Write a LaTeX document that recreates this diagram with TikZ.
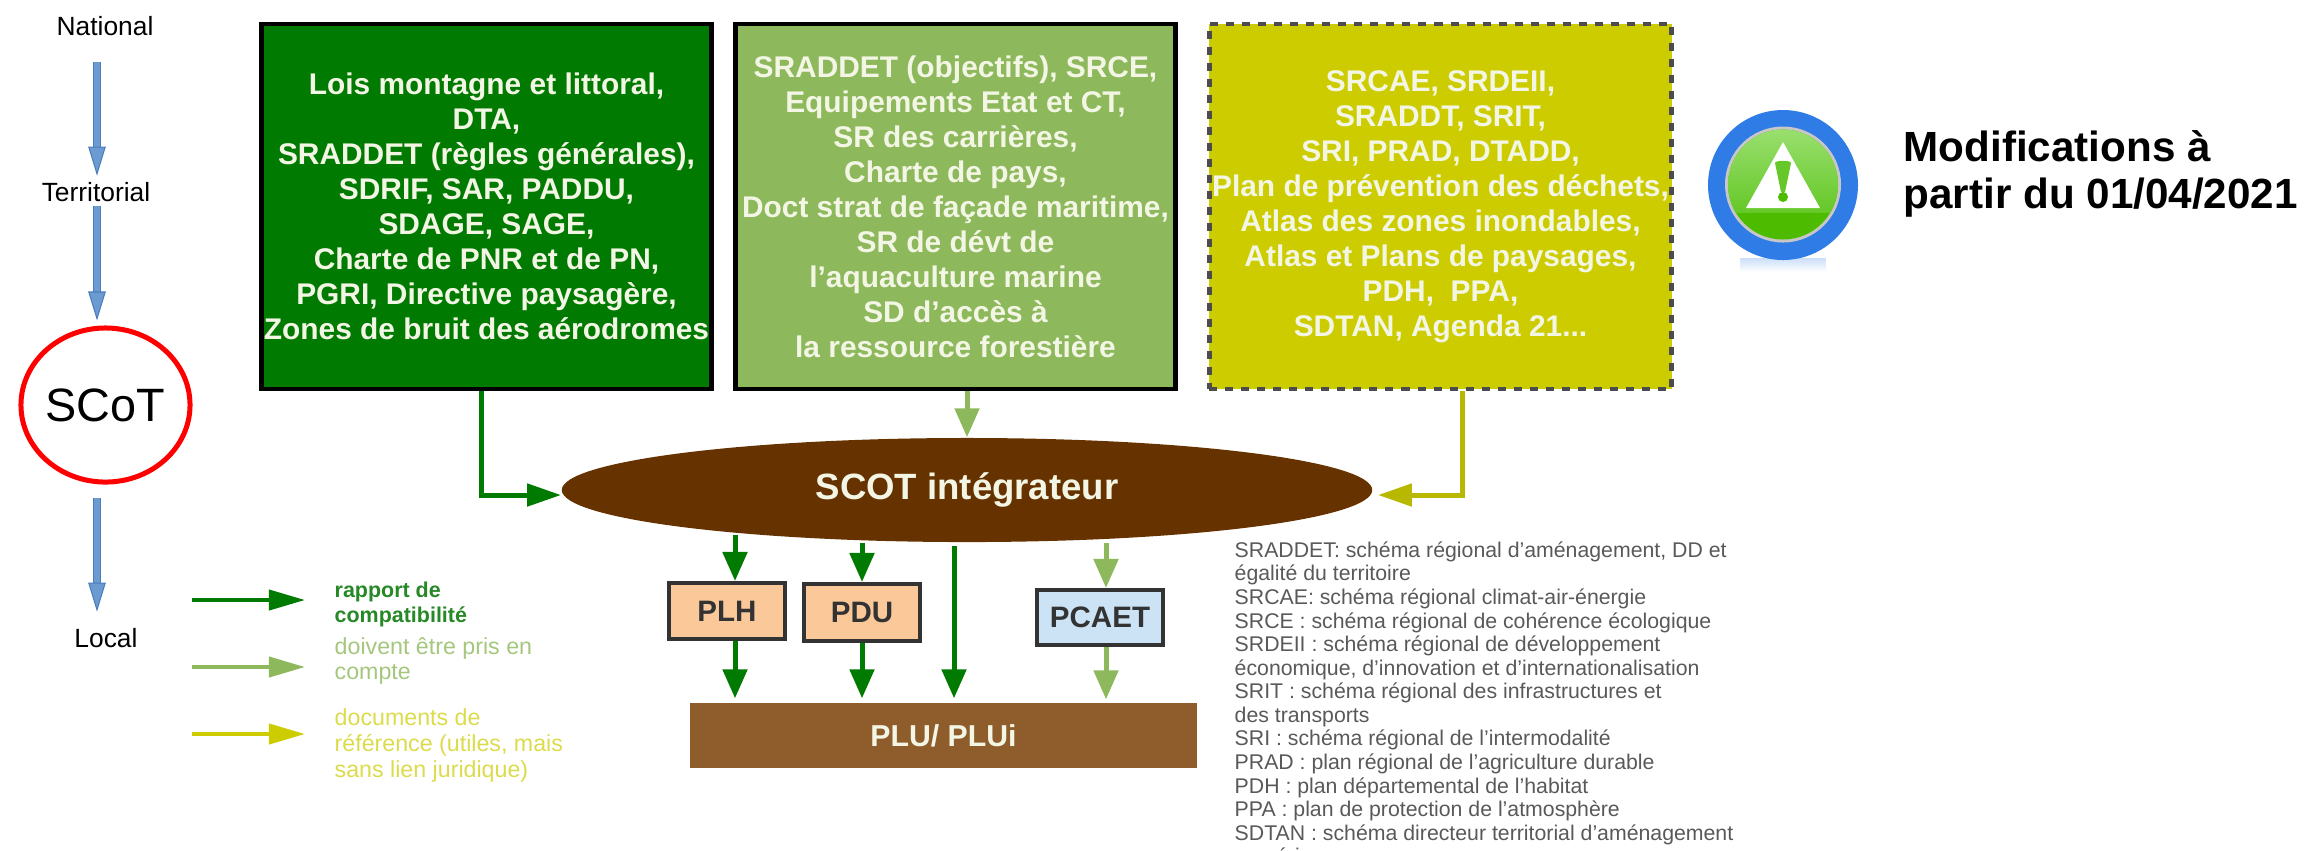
\documentclass[tikz,border=0pt]{standalone}
\usepackage{fontspec}
\setmainfont{Liberation Sans}
\usetikzlibrary{arrows.meta,shapes.geometric}

\definecolor{vertfonce}{HTML}{007A00}
\definecolor{vertclair}{HTML}{8DB85C}
\definecolor{jaune}{HTML}{CCCC00}
\definecolor{brun}{HTML}{663300}
\definecolor{brunclair}{HTML}{8F5D2C}
\definecolor{creme}{HTML}{F3F6E4}
\definecolor{bleu}{HTML}{6C9BD2}
\definecolor{bleubord}{HTML}{4A7EBB}
\definecolor{orangeclair}{HTML}{FBC999}
\definecolor{bleuclair}{HTML}{CCE3F5}
\definecolor{anneau}{HTML}{2F7CE6}
\definecolor{vertpic}{HTML}{4DBB00}
\definecolor{vertpichaut}{HTML}{9ADF70}
\definecolor{vertpicbas}{HTML}{66C828}

\tikzset{
  grandbox/.style={draw=black,line width=.045cm,minimum width=4.5cm,minimum height=3.65cm,inner sep=0,
    align=center,text=creme,font=\bfseries\fontsize{8.5}{9.96}\selectfont},
  petitbox/.style={draw=black!80,line width=.04cm,inner sep=0,text=black!80,
    font=\bfseries\fontsize{8.4}{10}\selectfont},
  niveau/.style={inner sep=0,font=\fontsize{7.5}{9}\selectfont},
  descente/.style={draw=bleubord,line width=.008cm,double=bleu,double distance=.065cm,
    -{Triangle[length=.29cm,width=.175cm,fill=bleu,color=bleubord,line width=.3pt]}},
  lien/.style={line width=.05cm,-{Triangle[length=.29cm,width=.24cm]}},
  legende/.style={line width=.04cm,shorten >=.29cm,-{Triangle[length=.36cm,width=.2cm]}},
  legtexte/.style={anchor=west,inner sep=0,align=left}
}

\begin{document}
\begin{tikzpicture}[x=.01cm,y=-.01cm]
\useasboundingbox (0,0) rectangle (2318,850);

\begin{scope}
\node[niveau] (national) at (105,26) {National};
\node[niveau] (territorial) at (96,192) {Territorial};
\node[niveau] (local) at (106,638) {Local};
\node[draw=red,line width=.05cm,ellipse,minimum width=1.62cm,minimum height=1.54cm,inner sep=0,
  font=\fontsize{13.3}{16}\selectfont] (scotrond) at (105.5,405) {SCoT};
\coordinate (fl1) at (97,62);
\coordinate (fl2) at (97,206);
\coordinate (fl3) at (97,498);
\draw[descente,shorten >=.06cm] (fl1) -- (fl1 |- territorial.north);
\draw[descente,shorten >=.05cm] (fl2) -- (fl2 |- scotrond.north);
\draw[descente,shorten >=.16cm] (fl3) -- (fl3 |- local.north);
\end{scope}

\node[grandbox,fill=vertfonce] (lois) at (486.5,206.5) {Lois montagne et littoral,\\DTA,\\SRADDET (règles générales),\\SDRIF, SAR, PADDU,\\SDAGE, SAGE,\\Charte de PNR et de PN,\\PGRI, Directive paysagère,\\Zones de bruit des aérodromes};
\node[grandbox,fill=vertclair,minimum width=4.4cm] (objectifs) at (955.5,206.5) {SRADDET (objectifs), SRCE,\\Equipements Etat et CT,\\SR des carrières,\\Charte de pays,\\Doct strat de façade maritime,\\SR de dévt de\\l’aquaculture marine\\SD d’accès à\\la ressource forestière};
\node[grandbox,fill=jaune,draw=black!70,dashed,dash pattern=on .08cm off .08cm,minimum width=4.62cm] (srcae) at (1440.5,206.5) {SRCAE, SRDEII,\\SRADDT, SRIT,\\SRI, PRAD, DTADD,\\Plan de prévention des déchets,\\Atlas des zones inondables,\\Atlas et Plans de paysages,\\PDH,\ \ PPA,\\SDTAN, Agenda 21...};

\node[ellipse,fill=brun,minimum width=8.1cm,minimum height=1.04cm,inner sep=0,text=creme,
  font=\bfseries\fontsize{10.4}{12}\selectfont] (scot) at (967,490) {SCOT intégrateur};
\node[petitbox,fill=orangeclair,minimum width=1.16cm,minimum height=.56cm] (plh) at (727,611) {PLH};
\node[petitbox,fill=orangeclair,minimum width=1.15cm,minimum height=.57cm] (pdu) at (862,612.5) {PDU};
\node[petitbox,fill=bleuclair,minimum width=1.26cm,minimum height=.55cm] (pcaet) at (1100,617.5) {PCAET};
\node[fill=brunclair,minimum width=5.07cm,minimum height=.65cm,inner sep=0,text=creme,
  font=\bfseries\fontsize{8.6}{10}\selectfont] (plu) at (943.5,735.5) {PLU/ PLUi};

\draw[lien,vertfonce,-{Triangle[length=.34cm,width=.22cm]}] ([xshift=-.055cm]lois.south) |- ([yshift=-.05cm]scot.west);
\draw[lien,vertclair] (scot.north |- objectifs.south) -- (scot.north);
\draw[lien,jaune!90!black,shorten >=.05cm,-{Triangle[length=.34cm,width=.22cm]}] ([xshift=.215cm]srcae.south) |- ([yshift=-.05cm]scot.east);

\coordinate (xplh) at (735,535);
\coordinate (xpdu) at (862,543);
\coordinate (xlong) at (954,546);
\coordinate (xpcaet) at (1106,543);
\draw[lien,vertfonce] (xplh) -- (xplh |- plh.north);
\draw[lien,vertfonce] (xpdu) -- (xpdu |- pdu.north);
\draw[lien,vertfonce,shorten >=.04cm] (xlong) -- (xlong |- plu.north);
\draw[lien,vertclair] (xpcaet) -- (xpcaet |- pcaet.north);
\draw[lien,vertfonce,shorten >=.04cm] (xplh |- plh.south) -- (xplh |- plu.north);
\draw[lien,vertfonce,shorten >=.04cm] (xpdu |- pdu.south) -- (xpdu |- plu.north);
\draw[lien,vertclair,shorten >=.03cm] (xpcaet |- pcaet.south) -- (xpcaet |- plu.north);

\begin{scope}
\node[legtexte,text=green!45!black!85!white,font=\bfseries\fontsize{6.1}{7.2}\selectfont] (leg1) at (334,604.5) {rapport de\\compatibilité};
\node[legtexte,text=vertclair!80!white,font=\fontsize{6.6}{7.3}\selectfont] (leg2) at (334,661) {doivent être pris en\\compte};
\node[legtexte,text=jaune!70!white,font=\fontsize{6.6}{7.4}\selectfont] (leg3) at (334,745) {documents de\\référence (utiles, mais\\sans lien juridique)};
\coordinate (lg1) at (192,600);
\coordinate (lg2) at (192,667);
\coordinate (lg3) at (192,734);
\draw[legende,vertfonce] (lg1) -- (lg1 -| leg1.west);
\draw[legende,vertclair] (lg2) -- (lg2 -| leg2.west);
\draw[legende,jaune] (lg3) -- (lg3 -| leg3.west);
\end{scope}

\node[anchor=west,inner sep=0,align=left,text=black!65,font=\fontsize{6.05}{5.6}\selectfont] (glossaire) at (1234,705) {SRADDET: schéma régional d’aménagement, DD et\\égalité du territoire\\SRCAE: schéma régional climat-air-énergie\\SRCE : schéma régional de cohérence écologique\\SRDEII : schéma régional de développement\\économique, d’innovation et d’internationalisation\\SRIT : schéma régional des infrastructures et\\des transports\\SRI : schéma régional de l’intermodalité\\PRAD : plan régional de l’agriculture durable\\PDH : plan départemental de l’habitat\\PPA : plan de protection de l’atmosphère\\SDTAN : schéma directeur territorial d’aménagement\\numérique};

\begin{scope}
\shade[top color=anneau!25!white,bottom color=white] (1740,258) rectangle (1826,272);
\fill[white] (1708,240) rectangle (1740,272) (1826,240) rectangle (1858,272);
\fill[anneau] (1783,185) circle[radius=75];
\fill[black!22] (1783,184.5) circle[radius=58];
\fill[vertpic] (1783,184.5) circle[radius=55];
\begin{scope}
\clip (1783,184.5) circle[radius=55];
\shade[top color=vertpichaut,bottom color=vertpicbas] (1726,128) rectangle (1841,212);
\end{scope}
\fill[white] (1783,142) -- (1820,208) -- (1746,208) -- cycle;
\fill[vertpicbas] (1775,163) .. controls (1775,160) and (1791,160) .. (1791,163) -- (1785,192) -- (1781,192) -- cycle;
\fill[vertpic] (1783,197) circle[radius=5];
\end{scope}

\node[anchor=north west,inner sep=0,align=left,font=\bfseries\fontsize{12}{13.4}\selectfont] (modif) at (1903,130) {Modifications à\\partir du 01/04/2021};

\end{tikzpicture}
\end{document}
